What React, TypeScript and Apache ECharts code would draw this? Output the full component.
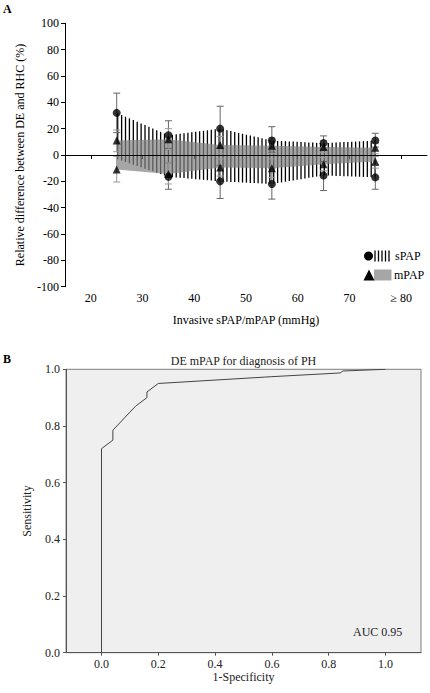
import React, { useEffect, useRef } from "react";
import * as echarts from "echarts";

// ---- Panel A data ----
const groups = [25, 35, 45, 55, 65, 75];
const sPAPUpper = [32, 15, 20, 11, 9, 11];
const sPAPLower = [-3, -16.5, -20, -22, -15.5, -17];
const mPAPUpper = [11, 12, 7.5, 7, 6, 5.5];
const mPAPLower = [-11, -14.5, -9.5, -10, -7, -5];

const sPAPUpperCI: [number, number][] = [[17, 47], [5, 26], [5, 37], [2, 21.5], [4, 14.5], [6, 16.5]];
const sPAPLowerCI: ([number, number] | null)[] = [null, [-26, -6], [-33, -8], [-33.5, -10], [-27, -5], [-26, -8]];
const mPAPUpperCI: [number, number][] = [[2.5, 19], [4, 20], [1, 14], [1, 13], [2, 11], [1, 9]];
const mPAPLowerCI: [number, number][] = [[-20.5, -1], [-22, -6], [-16, -3], [-17, -3], [-12, -2], [-10, -1]];

const xTicksA = [20, 30, 40, 50, 60, 70, 80];

// ---- Panel B data ----
const rocFpr = [0, 0, 0.04, 0.04, 0.12, 0.16, 0.16, 0.2, 0.4, 0.6, 0.84, 0.85, 1.0];
const rocTpr = [0, 0.72, 0.75, 0.785, 0.87, 0.9, 0.92, 0.95, 0.962, 0.974, 0.987, 0.994, 1.0];
const xTicksB = [0, 0.2, 0.4, 0.6, 0.8, 1.0];

const FONT = "Liberation Serif";
const FS = 12;

function errorBarSeries(ci: ([number, number] | null)[], color: string) {
  const data = groups
    .map((g, i) => (ci[i] ? [g, ci[i]![0], ci[i]![1]] : null))
    .filter((d) => d !== null);
  return {
    type: "custom",
    xAxisIndex: 0,
    yAxisIndex: 0,
    z: 4,
    data,
    renderItem: (params: any, api: any) => {
      const x = api.value(0);
      const lo = api.coord([x, api.value(1)]);
      const hi = api.coord([x, api.value(2)]);
      const w = 3.5;
      const st = { stroke: color, lineWidth: 1 };
      return {
        type: "group",
        children: [
          { type: "line", shape: { x1: lo[0], y1: lo[1], x2: hi[0], y2: hi[1] }, style: st },
          { type: "line", shape: { x1: lo[0] - w, y1: lo[1], x2: lo[0] + w, y2: lo[1] }, style: st },
          { type: "line", shape: { x1: hi[0] - w, y1: hi[1], x2: hi[0] + w, y2: hi[1] }, style: st },
        ],
      };
    },
  };
}

export default function App() {
  const ref = useRef<HTMLDivElement>(null);
  useEffect(() => {
    if (!ref.current) return;
    const chart = echarts.init(ref.current, null, { renderer: "svg" });

    const hatchSeries = {
      type: "custom",
      xAxisIndex: 0,
      yAxisIndex: 0,
      z: 2,
      data: [[groups[0], sPAPUpper[0]]],
      renderItem: (params: any, api: any) => {
        const xs = groups.map((g) => api.coord([g, 0])[0]);
        const step = 3.9;
        const children: any[] = [];
        for (let px = xs[0] + 1; px <= xs[xs.length - 1] + 0.01; px += step) {
          let i = 0;
          while (i < xs.length - 2 && px > xs[i + 1]) i++;
          const t = (px - xs[i]) / (xs[i + 1] - xs[i]);
          const topV = sPAPUpper[i] + t * (sPAPUpper[i + 1] - sPAPUpper[i]);
          const botV = sPAPLower[i] + t * (sPAPLower[i + 1] - sPAPLower[i]);
          const yT = api.coord([groups[i], topV])[1];
          const yB = api.coord([groups[i], botV])[1];
          children.push({
            type: "line",
            shape: { x1: px, y1: yT, x2: px, y2: yB },
            style: { stroke: "#000", lineWidth: 1.3 },
          });
        }
        return { type: "group", children };
      },
      markLine: {
        silent: true,
        symbol: "none",
        z: 10,
        label: { show: false },
        lineStyle: { color: "#000", width: 1, type: "solid" },
        data: [{ yAxis: 0 }],
      },
    };

    const bandSeries = {
      type: "custom",
      xAxisIndex: 0,
      yAxisIndex: 0,
      z: 3,
      data: [[groups[0], mPAPUpper[0]]],
      renderItem: (params: any, api: any) => {
        const pts: number[][] = [];
        groups.forEach((g, i) => pts.push(api.coord([g, mPAPUpper[i]])));
        for (let i = groups.length - 1; i >= 0; i--) pts.push(api.coord([groups[i], mPAPLower[i]]));
        return {
          type: "polygon",
          shape: { points: pts },
          style: { fill: "rgba(128,128,128,0.7)" },
        };
      },
    };

    const circleData: number[][] = [];
    groups.forEach((g, i) => circleData.push([g, sPAPUpper[i]]));
    groups.forEach((g, i) => {
      if (sPAPLowerCI[i]) circleData.push([g, sPAPLower[i]]);
    });
    const triData: number[][] = [];
    groups.forEach((g, i) => triData.push([g, mPAPUpper[i]]));
    groups.forEach((g, i) => triData.push([g, mPAPLower[i]]));

    const lbl = { fontSize: FS, fontFamily: FONT };

    const option: any = {
      animation: false,
      textStyle: { fontFamily: FONT, fontSize: FS },
      grid: [
        { left: 65, top: 23.3, width: 362, height: 263.4, show: false },
        {
          left: 66,
          top: 369.3,
          width: 355,
          height: 283.4,
          show: true,
          backgroundColor: "#efefef",
          borderColor: "#7f7f7f",
          borderWidth: 1,
        },
      ],
      xAxis: [
        {
          type: "value",
          gridIndex: 0,
          min: 15,
          max: 85,
          splitLine: { show: false },
          axisLine: { show: true, lineStyle: { color: "#000", width: 1 } },
          axisTick: { show: true, length: 4, customValues: xTicksA, lineStyle: { color: "#000" } },
          axisLabel: {
            ...lbl,
            customValues: xTicksA,
            color: "#000",
            margin: 5,
            formatter: (v: number) => (v === 80 ? "\u2265 80" : String(v)),
          },
          name: "Invasive sPAP/mPAP (mmHg)",
          nameLocation: "middle",
          nameGap: 27,
          nameTextStyle: { ...lbl, color: "#000" },
        },
        {
          type: "value",
          gridIndex: 1,
          min: -0.125,
          max: 1.125,
          splitLine: { show: false },
          axisLine: { show: true, onZero: false, lineStyle: { color: "#555", width: 1 } },
          axisTick: { show: true, length: 3, customValues: xTicksB, lineStyle: { color: "#555" } },
          axisLabel: {
            ...lbl,
            customValues: xTicksB,
            color: "#222",
            margin: 5,
            formatter: (v: number) => v.toFixed(1),
          },
          name: "1-Specificity",
          nameLocation: "middle",
          nameGap: 16,
          nameTextStyle: { ...lbl, color: "#222" },
        },
      ],
      yAxis: [
        {
          type: "value",
          gridIndex: 0,
          min: -100,
          max: 100,
          interval: 20,
          splitLine: { show: false },
          axisLine: { show: true, lineStyle: { color: "#000", width: 1 } },
          axisTick: { show: true, length: 4, lineStyle: { color: "#000" } },
          axisLabel: { ...lbl, color: "#000", margin: 6 },
          name: "Relative difference between DE and RHC (%)",
          nameLocation: "middle",
          nameGap: 30,
          nameTextStyle: { ...lbl, color: "#000" },
        },
        {
          type: "value",
          gridIndex: 1,
          min: 0,
          max: 1,
          interval: 0.2,
          splitLine: { show: false },
          axisLine: { show: true, onZero: false, lineStyle: { color: "#555", width: 1 } },
          axisTick: { show: true, length: 3, lineStyle: { color: "#555" } },
          axisLabel: {
            ...lbl,
            color: "#222",
            margin: 6,
            formatter: (v: number) => v.toFixed(1),
          },
          name: "Sensitivity",
          nameLocation: "middle",
          nameGap: 33,
          nameTextStyle: { ...lbl, color: "#222" },
        },
      ],
      series: [
        hatchSeries,
        bandSeries,
        errorBarSeries(sPAPUpperCI, "#666"),
        errorBarSeries(sPAPLowerCI, "#666"),
        errorBarSeries(mPAPUpperCI, "#999"),
        errorBarSeries(mPAPLowerCI, "#999"),
        {
          type: "scatter",
          xAxisIndex: 0,
          yAxisIndex: 0,
          z: 6,
          symbol: "circle",
          symbolSize: 8,
          itemStyle: { color: "#000" },
          data: circleData,
        },
        {
          type: "scatter",
          xAxisIndex: 0,
          yAxisIndex: 0,
          z: 6,
          symbol: "triangle",
          symbolSize: 8,
          itemStyle: { color: "#000" },
          data: triData,
        },
        {
          type: "line",
          xAxisIndex: 1,
          yAxisIndex: 1,
          symbol: "none",
          lineStyle: { color: "#444", width: 1 },
          data: rocFpr.map((f, i) => [f, rocTpr[i]]),
        },
      ],
      graphic: [
        { type: "text", left: 3, top: 3, style: { text: "A", font: `bold 12px ${FONT}`, fill: "#000" } },
        { type: "text", left: 3, top: 353, style: { text: "B", font: `bold 12px ${FONT}`, fill: "#000" } },
        // legend sPAP
        { type: "circle", shape: { cx: 368.5, cy: 256, r: 4.5 }, style: { fill: "#000" } },
        ...[375, 378.5, 382, 385.5, 389].map((x) => ({
          type: "line",
          shape: { x1: x, y1: 250.5, x2: x, y2: 261.5 },
          style: { stroke: "#000", lineWidth: 1.3 },
        })),
        {
          type: "text",
          x: 395,
          y: 256,
          style: { text: "sPAP", font: `${FS}px ${FONT}`, fill: "#000", verticalAlign: "middle" },
        },
        // legend mPAP
        { type: "rect", shape: { x: 374, y: 269.5, width: 17.5, height: 11 }, style: { fill: "#a6a6a6" } },
        {
          type: "polygon",
          shape: { points: [[369, 269.5], [374.5, 280.5], [363.5, 280.5]] },
          style: { fill: "#000" },
        },
        {
          type: "text",
          x: 394,
          y: 275,
          style: { text: "mPAP", font: `${FS}px ${FONT}`, fill: "#000", verticalAlign: "middle" },
        },
        // panel B title and AUC
        {
          type: "text",
          x: 243.5,
          y: 361,
          style: {
            text: "DE mPAP for diagnosis of PH",
            font: `${FS}px ${FONT}`,
            fill: "#222",
            align: "center",
            verticalAlign: "middle",
          },
        },
        {
          type: "text",
          x: 353,
          y: 632,
          style: { text: "AUC 0.95", font: `${FS}px ${FONT}`, fill: "#222", verticalAlign: "middle" },
        },
      ],
    };

    chart.setOption(option);
    return () => chart.dispose();
  }, []);

  return (
    <div
      ref={ref}
      style={{ position: "fixed", left: 0, top: 0, width: 430, height: 693, background: "#fff" }}
    />
  );
}
